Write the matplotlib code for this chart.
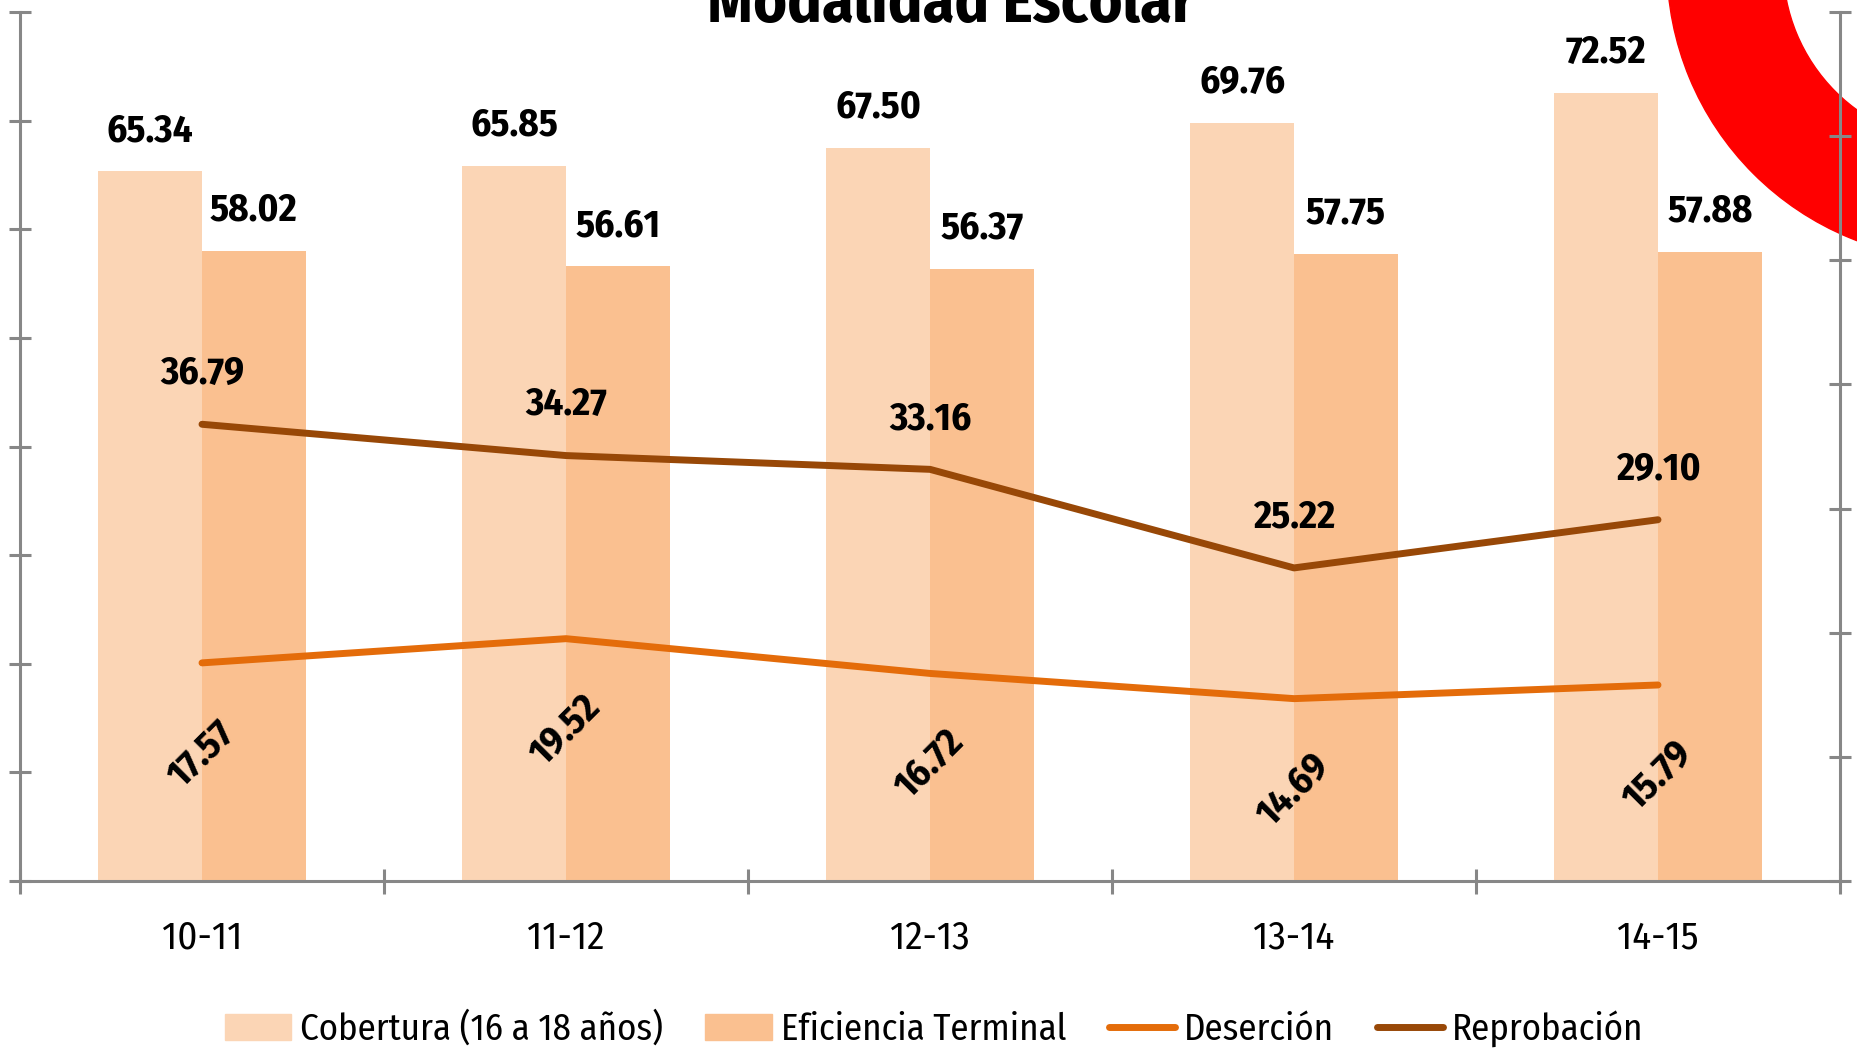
import matplotlib
matplotlib.use("Agg")
import matplotlib.pyplot as plt
from matplotlib.patches import Annulus, Patch
from matplotlib.lines import Line2D
from matplotlib import font_manager as fm

periods = ["10-11", "11-12", "12-13", "13-14", "14-15"]
cobertura = [65.34, 65.85, 67.50, 69.76, 72.52]
eficiencia = [58.02, 56.61, 56.37, 57.75, 57.88]
desercion = [17.57, 19.52, 16.72, 14.69, 15.79]
reprobacion = [36.79, 34.27, 33.16, 25.22, 29.10]
series_names = ["Cobertura (16 a 18 años)", "Eficiencia Terminal", "Deserción", "Reprobación"]
title = "Modalidad Escolar"

names = {f.name for f in fm.fontManager.ttflist}
main_font = "DejaVu Sans"
for cand in ["Fira Sans Condensed", "Roboto Condensed", "Barlow Semi Condensed", "Encode Sans Condensed", "Roboto"]:
    if cand in names:
        main_font = cand
        break
plt.rcParams['font.family'] = [main_font, "DejaVu Sans"]

C_COB = "#FBD5B5"
C_EF = "#FAC090"
C_DES = "#E46C0A"
C_REP = "#984807"
AXC = "#878787"

W, H = 1858, 1053
fig = plt.figure(figsize=(W / 100, H / 100), dpi=100)

# decorative red ring (top-right)
bg = fig.add_axes([0, 0, 1, 1], zorder=0)
bg.set_xlim(0, W)
bg.set_ylim(H, 0)
bg.axis("off")
bg.add_patch(Annulus((1962, -35), 295, 116, color="#FF0000"))

ax = fig.add_axes([20 / W, 1 - 881 / H, 1820 / W, 869 / H], zorder=1)
ax.patch.set_alpha(0)
ax2 = ax.twinx()

x = list(range(len(periods)))
bw = 0.285
ax.bar([i - bw / 2 for i in x], cobertura, bw, color=C_COB)
ax.bar([i + bw / 2 for i in x], eficiencia, bw, color=C_EF)
ax.set_ylim(0, 80)
ax.set_xlim(-0.5, len(periods) - 0.5)
ax2.set_ylim(0, 70)

LW = 5
ax2.plot(x, desercion, color=C_DES, lw=LW, solid_capstyle="round")
ax2.plot(x, reprobacion, color=C_REP, lw=LW, solid_capstyle="round")

FS = 28
for i in x:
    ax.annotate(f"{cobertura[i]:.2f}", (i - bw / 2, cobertura[i]), xytext=(0, 21.6),
                textcoords="offset points", ha="center", va="baseline",
                fontsize=FS, fontweight="bold")
    ax.annotate(f"{eficiencia[i]:.2f}", (i + bw / 2, eficiencia[i]), xytext=(0, 21.6),
                textcoords="offset points", ha="center", va="baseline",
                fontsize=FS, fontweight="bold")
    ax2.annotate(f"{reprobacion[i]:.2f}", (i, reprobacion[i]), xytext=(0, 29),
                 textcoords="offset points", ha="center", va="baseline",
                 fontsize=FS, fontweight="bold")
    ax2.annotate(f"{desercion[i]:.2f}", (i, desercion[i]), xytext=(0, -66),
                 textcoords="offset points", ha="center", va="center", rotation=45,
                 fontsize=FS, fontweight="bold")

for a in (ax, ax2):
    for s in a.spines.values():
        s.set_color(AXC)
        s.set_linewidth(2.2)
    a.spines["top"].set_visible(False)

ax.spines["right"].set_visible(False)
ax2.spines["left"].set_visible(False)
ax2.spines["bottom"].set_visible(False)

ax.set_yticks(range(0, 81, 10))
ax.set_yticklabels([])
ax.tick_params(axis="y", direction="inout", length=16, width=2.2, color=AXC)
ax2.set_yticks(range(0, 71, 10))
ax2.set_yticklabels([])
ax2.tick_params(axis="y", direction="inout", length=16, width=2.2, color=AXC)

ax.set_xticks(x)
ax.set_xticklabels(periods, fontsize=FS)
ax.set_xticks([i - 0.5 for i in range(len(periods) + 1)], minor=True)
ax.tick_params(axis="x", which="major", length=0, pad=28)
ax.tick_params(axis="x", which="minor", direction="inout", length=18, width=2.2, color=AXC)

fig.text(951 / W, 1 - 22 / H, title, ha="center", va="baseline", fontsize=46, fontweight="bold")

handles = [Patch(color=C_COB), Patch(color=C_EF),
           Line2D([], [], color=C_DES, lw=LW, solid_capstyle="round"),
           Line2D([], [], color=C_REP, lw=LW, solid_capstyle="round")]
fig.legend(handles, series_names, loc="center", bbox_to_anchor=(934 / W, 1 - 1029 / H),
           ncol=4, frameon=False, fontsize=26.5, handlelength=1.8, handleheight=0.7,
           handletextpad=0.25, columnspacing=1.15, borderaxespad=0)

fig.savefig("out.png", dpi=100)
